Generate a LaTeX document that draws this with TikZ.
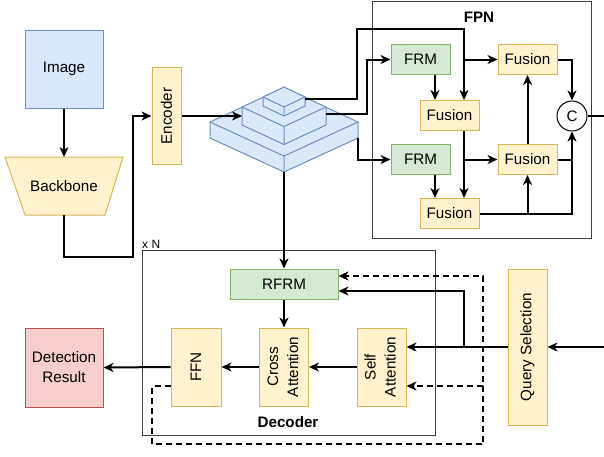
\documentclass[tikz,border=0pt]{standalone}
\usepackage{fontspec}
\setmainfont{Liberation Sans}
\usetikzlibrary{arrows.meta,calc}
\definecolor{yfill}{HTML}{FFF2CC}
\definecolor{ystroke}{HTML}{D6B656}
\definecolor{gfill}{HTML}{D5E8D4}
\definecolor{gstroke}{HTML}{82B366}
\definecolor{bfill}{HTML}{DAE8FC}
\definecolor{bstroke}{HTML}{6C8EBF}
\definecolor{rfill}{HTML}{F8CECC}
\definecolor{rstroke}{HTML}{B85450}
\definecolor{frame}{HTML}{404040}
\begin{document}
\begin{tikzpicture}[x=1pt,y=-1pt,
  font=\fontsize{15.2}{20}\selectfont,
  box/.style={draw, line width=1pt, inner sep=0pt, align=center},
  ybox/.style={box, fill=yfill, draw=ystroke},
  gbox/.style={box, fill=gfill, draw=gstroke},
  bbox/.style={box, fill=bfill, draw=bstroke},
  rbox/.style={box, fill=rfill, draw=rstroke},
  fus/.style={ybox, minimum width=59pt, minimum height=30pt},
  frm/.style={gbox, minimum width=59pt, minimum height=30pt},
  container/.style={draw=frame, line width=1pt},
  plain/.style={line width=2pt},
  conn/.style={line width=2pt, -{Stealth[length=10pt,width=9pt,inset=3pt]}},
  dconn/.style={conn, dash pattern=on 6pt off 4pt},
  layer/.style={fill=bfill, draw=bstroke, line width=1pt, line join=round}
]
\useasboundingbox (0,0) rectangle (604,456);

% containers
\draw[container] (372,1) rectangle (591,238);
\node[font=\fontsize{15.2}{18}\selectfont\bfseries] (fpnlabel) at (479,17) {FPN};
\draw[container] (142,250) rectangle (435,435);
\node[font=\fontsize{15.2}{18}\selectfont\bfseries] (declabel) at (288,422) {Decoder};
\node[anchor=base west, inner sep=0pt, font=\fontsize{12}{14}\selectfont] (xn) at (142,248) {x N};

% input side
\node[bbox, minimum width=78pt, minimum height=78pt] (img) at (64,69) {Image};
\draw[ybox] (5,157) -- (123,157) -- (105,215) -- (25,215) -- cycle;
\node (bb) at (64,186) {Backbone};
\coordinate (bbtop) at (64,157);
\coordinate (bbbot) at (64,215);
\node[ybox, minimum width=29pt, minimum height=97pt] (enc) at (166.5,116) {\rotatebox{90}{Encoder}};

% feature pyramid (three stacked isometric slabs)
\filldraw[layer] (210,122) -- (284,88) -- (358,122) -- (358,138) -- (284,172) -- (210,138) -- cycle;
\draw[layer, fill=none] (210,122) -- (284,156) -- (358,122) (284,156) -- (284,172);
\filldraw[layer] (242,107) -- (284,87.5) -- (326,107) -- (326,125) -- (284,144.5) -- (242,125) -- cycle;
\draw[layer, fill=none] (242,107) -- (284,126.5) -- (326,107) (284,126.5) -- (284,144.5);
\filldraw[layer] (263,97) -- (284,87) -- (305,97) -- (305,106) -- (284,116) -- (263,106) -- cycle;
\draw[layer, fill=none] (263,97) -- (284,107) -- (305,97) (284,107) -- (284,116);
\coordinate (pmL) at (242,116);
\coordinate (ptR) at (305,99);
\coordinate (pmR) at (326,114);
\coordinate (pbR) at (358,138);
\coordinate (pBot) at (284,172);

% FPN blocks
\node[frm] (FRM1) at (420.5,59.5) {FRM};
\node[frm] (FRM2) at (420.5,159.5) {FRM};
\node[fus] (FuA) at (449.5,115.5) {Fusion};
\node[fus] (FuB) at (449.5,213.5) {Fusion};
\node[fus] (FuC) at (527.5,59.5) {Fusion};
\node[fus] (FuD) at (527.5,159.5) {Fusion};
\node[draw, fill=white, line width=1pt, circle, minimum size=30pt, inner sep=0pt] (C) at (572,116) {C};
\coordinate (xA) at (464,0);
\coordinate (xB) at (435,0);
\coordinate (exitR) at (604,116);

% decoder blocks
\node[gbox, minimum width=108pt, minimum height=30pt] (RFRM) at (284,284) {RFRM};
\node[ybox, minimum width=49pt, minimum height=78pt] (Cross) at (284,367)
  {\rotatebox{90}{\begin{tabular}{@{}c@{}}Cross\\Attention\end{tabular}}};
\node[ybox, minimum width=49pt, minimum height=78pt] (Self) at (381.5,367)
  {\rotatebox{90}{\begin{tabular}{@{}c@{}}Self\\Attention\end{tabular}}};
\node[ybox, minimum width=50pt, minimum height=78pt] (FFN) at (196,367) {\rotatebox{90}{FFN}};
\node[rbox, minimum width=78pt, minimum height=79pt] (Det) at (64,367.5) {Detection\\Result};
\node[ybox, minimum width=39pt, minimum height=156pt] (QS) at (527.5,347) {\rotatebox{90}{Query Selection}};
\coordinate (entryR) at (604,347);
\coordinate (yd) at (0,386);
\coordinate (yr1) at (0,276);
\coordinate (yr2) at (0,291);
\coordinate (xD) at (483,0);
\coordinate (xE) at (464,0);

% backbone / encoder path
\draw[conn] (img.south) -- (bbtop);
\draw[conn] (bbbot) |- (133,257) |- (enc.west);
\draw[conn] (enc.east) -- (pmL);

% pyramid outputs into FPN
\draw[conn] (ptR) -| (357,29) -| (xA |- FuA.north);
\draw[conn] (pmR) -- (367,114) |- (FRM1.west);
\draw[conn] (pbR) |- (FRM2.west);
\draw[conn] (pBot) -- (RFRM.north);

% FPN internal flow
\draw[conn] (xB |- FRM1.south) -- (xB |- FuA.north);
\draw[conn] (xB |- FRM2.south) -- (xB |- FuB.north);
\draw[conn] (xA |- FuC.west) -- (FuC.west);
\draw[conn] (xA |- FuA.south) -- (xA |- FuB.north);
\draw[conn] (xA |- FuD.west) -- (FuD.west);
\draw[conn] (FuB.east) -| (C.south);
\draw[conn] (FuD.south |- FuB.east) -- (FuD.south);
\draw[plain] (FuD.east) -- (C.south |- FuD.east);
\draw[conn] (FuD.north) -- (FuC.south);
\draw[conn] (FuC.east) -| (C.north);
\draw[plain] (C.east) -- (exitR);

% decoder flow
\draw[conn] (RFRM.south) -- (Cross.north);
\draw[conn] (Self.west) -- (Cross.east);
\draw[conn] (Cross.west) -- (FFN.east);
\draw[conn] (FFN.west) -- (Det.east);
\draw[dconn] (FFN.west |- yd) -| (152,444) -| (xD |- yr1) -- (RFRM.east |- yr1);
\draw[dconn] (xD |- yd) -- (Self.east |- yd);
\draw[conn] (QS.west) -- (Self.east |- QS.west);
\draw[conn] (xE |- QS.west) |- (RFRM.east |- yr2);
\draw[conn] (entryR) -- (QS.east);
\end{tikzpicture}
\end{document}
